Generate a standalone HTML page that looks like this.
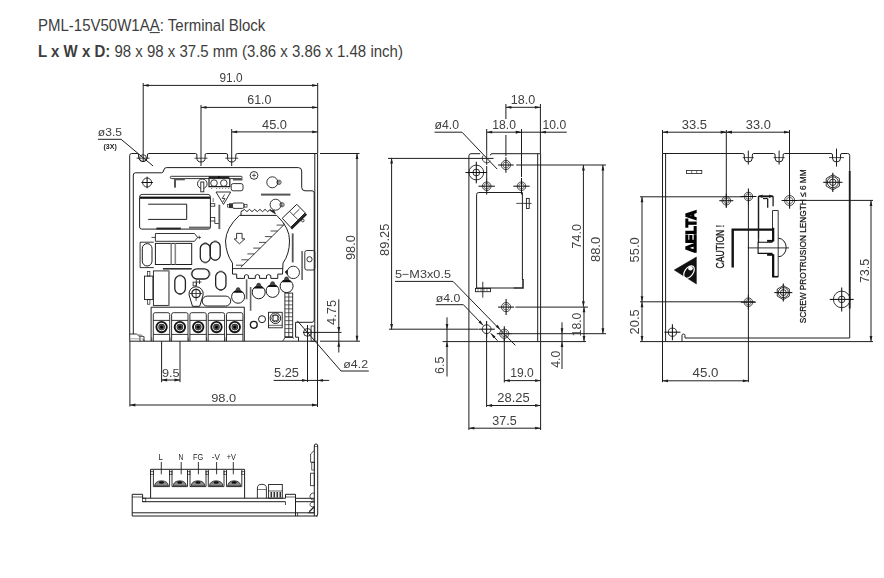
<!DOCTYPE html>
<html><head><meta charset="utf-8"><style>
html,body{margin:0;padding:0;background:#fff;}
body{width:884px;height:578px;position:relative;overflow:hidden;}
.hd{position:absolute;left:38px;font-family:"Liberation Sans",sans-serif;font-size:15px;color:#3d3d3d;white-space:nowrap;line-height:18px;transform:scaleY(1.05);transform-origin:0 14px;}
svg{position:absolute;left:0;top:0;will-change:transform;}
svg text{font-family:"Liberation Sans",sans-serif;}
</style></head><body>
<div class="hd" style="top:16.5px">PML-15V50W1A<u>A</u>: Terminal Block</div>
<div class="hd" style="top:42.6px"><b>L x W x D:</b> 98 x 98 x 37.5 mm (3.86 x 3.86 x 1.48 inch)</div>
<svg width="884" height="578" viewBox="0 0 884 578">
<path d="M129.7,341.2 L129.7,155.5 Q129.7,153.5 131.7,153.5 L137.1,153.5 Q138.6,153.5 138.6,155.0 L138.6,157.1 A4.4,4.4 0 0 0 147.4,157.1 L147.4,155.0 Q147.4,153.5 148.9,153.5 L195.4,153.5 Q196.9,153.5 196.9,155.0 L196.9,157.9 A4.1,4.1 0 0 0 205.1,157.9 L205.1,155.0 Q205.1,153.5 206.6,153.5 L226.1,153.5 Q227.6,153.5 227.6,155.0 L227.6,157.9 A4.1,4.1 0 0 0 235.79999999999998,157.9 L235.79999999999998,155.0 Q235.79999999999998,153.5 237.29999999999998,153.5 L317.6,153.5 L317.6,341.2 Z" fill="none" stroke="#1e1e1e" stroke-width="1"/>
<line x1="314.8" y1="153.5" x2="314.8" y2="341.2" stroke="#1e1e1e" stroke-width="1"/>
<line x1="136.5" y1="158.2" x2="149.5" y2="158.2" stroke="#1e1e1e" stroke-width="0.8"/>
<line x1="194.5" y1="158.2" x2="207.5" y2="158.2" stroke="#1e1e1e" stroke-width="0.8"/>
<line x1="225.2" y1="158.2" x2="238.2" y2="158.2" stroke="#1e1e1e" stroke-width="0.8"/>
<circle cx="143" cy="158.2" r="3.5" fill="none" stroke="#1e1e1e" stroke-width="0.8"/>
<path d="M133.3,334 L133.3,175 Q133.3,172.8 135.5,172.8 L161.5,172.8 Q163.5,172.8 163.8,170 Q164.3,167.6 166.5,167.6 L298.3,167.6 Q301.7,167.6 301.7,171 L301.7,187.4 Q301.7,190.8 305,190.8 L312,190.8 Q314.2,190.8 314.2,193 L314.2,320 Q314.2,322.3 312,322.3 L295.6,322.3 L295.6,337.2 L298.5,337.2 L298.5,341.2" fill="none" stroke="#1e1e1e" stroke-width="1"/>
<line x1="143.2" y1="83" x2="143.2" y2="162" stroke="#1e1e1e" stroke-width="1"/>
<line x1="201" y1="105" x2="201" y2="166" stroke="#1e1e1e" stroke-width="1"/>
<line x1="231.7" y1="129" x2="231.7" y2="166" stroke="#1e1e1e" stroke-width="1"/>
<line x1="317.7" y1="83" x2="317.7" y2="153" stroke="#1e1e1e" stroke-width="1"/>
<line x1="143.2" y1="85.4" x2="317.7" y2="85.4" stroke="#1e1e1e" stroke-width="1"/>
<polygon points="143.2,85.4 148.70,84.00 148.70,86.80" fill="#1e1e1e"/>
<polygon points="317.7,85.4 312.20,86.80 312.20,84.00" fill="#1e1e1e"/>
<line x1="201" y1="107.4" x2="317.7" y2="107.4" stroke="#1e1e1e" stroke-width="1"/>
<polygon points="201,107.4 206.50,106.00 206.50,108.80" fill="#1e1e1e"/>
<polygon points="317.7,107.4 312.20,108.80 312.20,106.00" fill="#1e1e1e"/>
<line x1="231.7" y1="131.9" x2="317.7" y2="131.9" stroke="#1e1e1e" stroke-width="1"/>
<polygon points="231.7,131.9 237.20,130.50 237.20,133.30" fill="#1e1e1e"/>
<polygon points="317.7,131.9 312.20,133.30 312.20,130.50" fill="#1e1e1e"/>
<text x="219.5" y="82.0" font-size="12.15" textLength="23.00" lengthAdjust="spacingAndGlyphs" fill="#404040" font-weight="normal">91.0</text>
<text x="247.3" y="104.2" font-size="12.01" textLength="24.20" lengthAdjust="spacingAndGlyphs" fill="#404040" font-weight="normal">61.0</text>
<text x="262" y="129.3" font-size="12.01" textLength="25.00" lengthAdjust="spacingAndGlyphs" fill="#404040" font-weight="normal">45.0</text>
<text x="97.8" y="136.2" font-size="10.89" textLength="24.20" lengthAdjust="spacingAndGlyphs" fill="#404040" font-weight="normal">ø3.5</text>
<text x="103.5" y="149.2" font-size="7.20" textLength="13.30" lengthAdjust="spacingAndGlyphs" fill="#222" font-weight="bold">(3X)</text>
<line x1="98" y1="139.3" x2="121.1" y2="139.3" stroke="#1e1e1e" stroke-width="1"/>
<line x1="121.1" y1="139.3" x2="153.1" y2="166" stroke="#1e1e1e" stroke-width="1"/>
<line x1="320" y1="153.5" x2="359.5" y2="153.5" stroke="#1e1e1e" stroke-width="1"/>
<line x1="320" y1="341.2" x2="360" y2="341.2" stroke="#1e1e1e" stroke-width="1"/>
<line x1="357" y1="153.5" x2="357" y2="341.2" stroke="#1e1e1e" stroke-width="1"/>
<polygon points="357,153.5 358.40,159.00 355.60,159.00" fill="#1e1e1e"/>
<polygon points="357,341.2 355.60,335.70 358.40,335.70" fill="#1e1e1e"/>
<text transform="translate(354.9,260.1) rotate(-90)" x="0" y="0" font-size="12.99" textLength="24.90" lengthAdjust="spacingAndGlyphs" fill="#404040" font-weight="normal">98.0</text>
<line x1="303" y1="332.4" x2="341.5" y2="332.4" stroke="#1e1e1e" stroke-width="1"/>
<line x1="338.8" y1="299.4" x2="338.8" y2="352.5" stroke="#1e1e1e" stroke-width="1"/>
<polygon points="338.8,332.4 337.40,326.90 340.20,326.90" fill="#1e1e1e"/>
<polygon points="338.8,341.2 340.20,346.70 337.40,346.70" fill="#1e1e1e"/>
<text transform="translate(335.8,324.9) rotate(-90)" x="0" y="0" font-size="12.57" textLength="24.90" lengthAdjust="spacingAndGlyphs" fill="#404040" font-weight="normal">4.75</text>
<circle cx="307.5" cy="332.4" r="3.9" fill="none" stroke="#1e1e1e" stroke-width="0.9"/>
<line x1="307.5" y1="325" x2="307.5" y2="382" stroke="#1e1e1e" stroke-width="1"/>
<line x1="297.3" y1="320.8" x2="341" y2="371" stroke="#1e1e1e" stroke-width="1"/>
<line x1="341" y1="371" x2="368.8" y2="371" stroke="#1e1e1e" stroke-width="1"/>
<text x="343.3" y="367.6" font-size="10.06" textLength="24.70" lengthAdjust="spacingAndGlyphs" fill="#404040" font-weight="normal">ø4.2</text>
<line x1="317.5" y1="341.2" x2="317.5" y2="407" stroke="#1e1e1e" stroke-width="1"/>
<line x1="273.6" y1="380.4" x2="329.2" y2="380.4" stroke="#1e1e1e" stroke-width="1"/>
<polygon points="307.5,380.4 302.00,381.80 302.00,379.00" fill="#1e1e1e"/>
<polygon points="317.5,380.4 323.00,379.00 323.00,381.80" fill="#1e1e1e"/>
<text x="274" y="376.8" font-size="11.87" textLength="25.00" lengthAdjust="spacingAndGlyphs" fill="#404040" font-weight="normal">5.25</text>
<line x1="161.6" y1="341.2" x2="161.6" y2="382.2" stroke="#1e1e1e" stroke-width="1"/>
<line x1="180" y1="341.2" x2="180" y2="382.2" stroke="#1e1e1e" stroke-width="1"/>
<line x1="161.6" y1="380" x2="180" y2="380" stroke="#1e1e1e" stroke-width="1"/>
<polygon points="161.6,380 167.10,378.60 167.10,381.40" fill="#1e1e1e"/>
<polygon points="180,380 174.50,381.40 174.50,378.60" fill="#1e1e1e"/>
<text x="161.9" y="376.8" font-size="11.73" textLength="17.70" lengthAdjust="spacingAndGlyphs" fill="#404040" font-weight="normal">9.5</text>
<line x1="129.9" y1="341.2" x2="129.9" y2="406.5" stroke="#1e1e1e" stroke-width="1"/>
<line x1="129.9" y1="405" x2="317.5" y2="405" stroke="#1e1e1e" stroke-width="1"/>
<polygon points="129.9,405 135.40,403.60 135.40,406.40" fill="#1e1e1e"/>
<polygon points="317.5,405 312.00,406.40 312.00,403.60" fill="#1e1e1e"/>
<text x="211.2" y="401.5" font-size="11.59" textLength="25.00" lengthAdjust="spacingAndGlyphs" fill="#404040" font-weight="normal">98.0</text>
<path d="M480.2,153.7 L471,153.7 Q468.9,153.7 468.9,155.8 L468.9,341.6 L540.6,341.6 L540.6,153.7 L492,153.7 Q490.4,153.7 490.4,155.3" fill="none" stroke="#1e1e1e" stroke-width="1"/>
<line x1="537.7" y1="153.7" x2="537.7" y2="341.6" stroke="#1e1e1e" stroke-width="1"/>
<path d="M483.2,155.5 A4.5,4.5 0 0 0 490.5,161" fill="none" stroke="#1e1e1e" stroke-width="0.8"/>
<line x1="486.7" y1="150" x2="486.7" y2="165" stroke="#1e1e1e" stroke-width="0.9"/>
<circle cx="505.9" cy="165" r="4.6" fill="none" stroke="#333" stroke-width="0.9"/>
<circle cx="505.9" cy="165" r="2.944" fill="none" stroke="#444" stroke-width="0.7"/>
<line x1="498.09999999999997" y1="165" x2="513.6999999999999" y2="165" stroke="#111" stroke-width="1.05"/>
<line x1="505.9" y1="157.2" x2="505.9" y2="172.8" stroke="#111" stroke-width="1.05"/>
<circle cx="476.3" cy="172.5" r="7.4" fill="none" stroke="#1e1e1e" stroke-width="0.9"/>
<circle cx="476.3" cy="172.5" r="3.4" fill="none" stroke="#1e1e1e" stroke-width="0.9"/>
<line x1="465.5" y1="172.5" x2="487.1" y2="172.5" stroke="#111" stroke-width="1.05"/>
<line x1="476.3" y1="161.7" x2="476.3" y2="183.3" stroke="#111" stroke-width="1.05"/>
<circle cx="486.7" cy="186.2" r="4.3" fill="none" stroke="#333" stroke-width="0.9"/>
<circle cx="486.7" cy="186.2" r="2.752" fill="none" stroke="#444" stroke-width="0.7"/>
<line x1="478.5" y1="186.2" x2="494.9" y2="186.2" stroke="#111" stroke-width="1.05"/>
<line x1="486.7" y1="178.0" x2="486.7" y2="194.39999999999998" stroke="#111" stroke-width="1.05"/>
<circle cx="521.5" cy="186.2" r="4.3" fill="none" stroke="#333" stroke-width="0.9"/>
<circle cx="521.5" cy="186.2" r="2.752" fill="none" stroke="#444" stroke-width="0.7"/>
<line x1="513.3" y1="186.2" x2="529.7" y2="186.2" stroke="#111" stroke-width="1.05"/>
<line x1="521.5" y1="178.0" x2="521.5" y2="194.39999999999998" stroke="#111" stroke-width="1.05"/>
<path d="M513.3,288 L476.6,288 L476.6,194.5 Q476.6,192.5 478.6,192.5 L522.4,192.5 L522.4,280" fill="none" stroke="#1e1e1e" stroke-width="1"/>
<path d="M513.3,288 L523,288 L523,279" fill="none" stroke="#1e1e1e" stroke-width="1.5"/>
<rect x="526.4" y="198.4" width="2.8" height="10.1" rx="0" fill="none" stroke="#1e1e1e" stroke-width="0.9"/>
<line x1="516.3" y1="203.4" x2="531.5" y2="203.4" stroke="#1e1e1e" stroke-width="0.8"/>
<rect x="475.5" y="288.4" width="15" height="3.3" rx="0" fill="none" stroke="#1e1e1e" stroke-width="0.9"/>
<line x1="478" y1="288.4" x2="478" y2="291.7" stroke="#1e1e1e" stroke-width="0.5"/>
<line x1="481" y1="288.4" x2="481" y2="291.7" stroke="#1e1e1e" stroke-width="0.5"/>
<line x1="484" y1="288.4" x2="484" y2="291.7" stroke="#1e1e1e" stroke-width="0.5"/>
<line x1="487" y1="288.4" x2="487" y2="291.7" stroke="#1e1e1e" stroke-width="0.5"/>
<line x1="482.8" y1="281.8" x2="482.8" y2="297.7" stroke="#1e1e1e" stroke-width="0.9"/>
<circle cx="506.1" cy="307.1" r="4.6" fill="none" stroke="#333" stroke-width="0.9"/>
<circle cx="506.1" cy="307.1" r="2.944" fill="none" stroke="#444" stroke-width="0.7"/>
<line x1="498.1" y1="307.1" x2="514.1" y2="307.1" stroke="#111" stroke-width="1.05"/>
<line x1="506.1" y1="299.1" x2="506.1" y2="315.1" stroke="#111" stroke-width="1.05"/>
<circle cx="486.6" cy="329.2" r="4.4" fill="none" stroke="#1e1e1e" stroke-width="0.9"/>
<line x1="478.40000000000003" y1="329.2" x2="494.8" y2="329.2" stroke="#111" stroke-width="1.05"/>
<line x1="486.6" y1="321.0" x2="486.6" y2="337.4" stroke="#111" stroke-width="1.05"/>
<circle cx="504.3" cy="333.7" r="4.6" fill="none" stroke="#333" stroke-width="0.9"/>
<circle cx="504.3" cy="333.7" r="2.944" fill="none" stroke="#444" stroke-width="0.7"/>
<line x1="496.8" y1="333.7" x2="511.8" y2="333.7" stroke="#111" stroke-width="1.05"/>
<line x1="504.3" y1="326.2" x2="504.3" y2="341.2" stroke="#111" stroke-width="1.05"/>
<line x1="388" y1="158.4" x2="493.5" y2="158.4" stroke="#1e1e1e" stroke-width="1"/>
<line x1="516.2" y1="165" x2="606" y2="165" stroke="#1e1e1e" stroke-width="1"/>
<line x1="389" y1="329.2" x2="478" y2="329.2" stroke="#1e1e1e" stroke-width="1"/>
<line x1="442.6" y1="341.6" x2="468.9" y2="341.6" stroke="#1e1e1e" stroke-width="1"/>
<line x1="515.4" y1="307.1" x2="588" y2="307.1" stroke="#1e1e1e" stroke-width="1"/>
<line x1="511.2" y1="333.7" x2="606" y2="333.7" stroke="#1e1e1e" stroke-width="1"/>
<line x1="540.4" y1="341.6" x2="586" y2="341.6" stroke="#1e1e1e" stroke-width="1"/>
<line x1="391.6" y1="157.9" x2="391.6" y2="329.4" stroke="#1e1e1e" stroke-width="1"/>
<polygon points="391.6,157.9 393.00,163.40 390.20,163.40" fill="#1e1e1e"/>
<polygon points="391.6,329.4 390.20,323.90 393.00,323.90" fill="#1e1e1e"/>
<text transform="translate(389.2,255.9) rotate(-90)" x="0" y="0" font-size="12.99" textLength="32.20" lengthAdjust="spacingAndGlyphs" fill="#404040" font-weight="normal">89.25</text>
<line x1="583.4" y1="164.9" x2="583.4" y2="306.7" stroke="#1e1e1e" stroke-width="1"/>
<polygon points="583.4,164.9 584.80,170.40 582.00,170.40" fill="#1e1e1e"/>
<polygon points="583.4,306.7 582.00,301.20 584.80,301.20" fill="#1e1e1e"/>
<text transform="translate(580.5,248.7) rotate(-90)" x="0" y="0" font-size="12.99" textLength="24.70" lengthAdjust="spacingAndGlyphs" fill="#404040" font-weight="normal">74.0</text>
<line x1="602.9" y1="164.9" x2="602.9" y2="333.8" stroke="#1e1e1e" stroke-width="1"/>
<polygon points="602.9,164.9 604.30,170.40 601.50,170.40" fill="#1e1e1e"/>
<polygon points="602.9,333.8 601.50,328.30 604.30,328.30" fill="#1e1e1e"/>
<text transform="translate(599.7,262) rotate(-90)" x="0" y="0" font-size="12.71" textLength="25.10" lengthAdjust="spacingAndGlyphs" fill="#404040" font-weight="normal">88.0</text>
<line x1="584" y1="306.7" x2="584" y2="341.6" stroke="#1e1e1e" stroke-width="1"/>
<polygon points="584,306.7 585.40,312.20 582.60,312.20" fill="#1e1e1e"/>
<polygon points="584,341.6 582.60,336.10 585.40,336.10" fill="#1e1e1e"/>
<text transform="translate(580.8,336.4) rotate(-90)" x="0" y="0" font-size="12.43" textLength="23.80" lengthAdjust="spacingAndGlyphs" fill="#404040" font-weight="normal">18.0</text>
<line x1="562" y1="322.3" x2="562" y2="369" stroke="#1e1e1e" stroke-width="1"/>
<polygon points="562,333.8 560.60,328.30 563.40,328.30" fill="#1e1e1e"/>
<polygon points="562,341.6 563.40,347.10 560.60,347.10" fill="#1e1e1e"/>
<text transform="translate(559.5,367.8) rotate(-90)" x="0" y="0" font-size="13.13" textLength="17.10" lengthAdjust="spacingAndGlyphs" fill="#404040" font-weight="normal">4.0</text>
<line x1="447" y1="317.3" x2="447" y2="376.5" stroke="#1e1e1e" stroke-width="1"/>
<polygon points="447,329.4 445.60,323.90 448.40,323.90" fill="#1e1e1e"/>
<polygon points="447,341.6 448.40,347.10 445.60,347.10" fill="#1e1e1e"/>
<text transform="translate(444.4,373.9) rotate(-90)" x="0" y="0" font-size="12.57" textLength="17.30" lengthAdjust="spacingAndGlyphs" fill="#404040" font-weight="normal">6.5</text>
<line x1="505.9" y1="104" x2="505.9" y2="119" stroke="#1e1e1e" stroke-width="1"/>
<line x1="505.9" y1="135" x2="505.9" y2="156" stroke="#1e1e1e" stroke-width="1"/>
<line x1="540.4" y1="104" x2="540.4" y2="153.7" stroke="#1e1e1e" stroke-width="1"/>
<line x1="505.9" y1="107.3" x2="540.4" y2="107.3" stroke="#1e1e1e" stroke-width="1"/>
<polygon points="505.9,107.3 511.40,105.90 511.40,108.70" fill="#1e1e1e"/>
<polygon points="540.4,107.3 534.90,108.70 534.90,105.90" fill="#1e1e1e"/>
<text x="510.8" y="104" font-size="11.87" textLength="24.50" lengthAdjust="spacingAndGlyphs" fill="#404040" font-weight="normal">18.0</text>
<line x1="486.7" y1="129" x2="486.7" y2="150" stroke="#1e1e1e" stroke-width="1"/>
<line x1="486.7" y1="166" x2="486.7" y2="178" stroke="#1e1e1e" stroke-width="1"/>
<line x1="521.5" y1="129" x2="521.5" y2="177" stroke="#1e1e1e" stroke-width="1"/>
<line x1="486.7" y1="132.2" x2="521.3" y2="132.2" stroke="#1e1e1e" stroke-width="1"/>
<polygon points="486.7,132.2 492.20,130.80 492.20,133.60" fill="#1e1e1e"/>
<polygon points="521.3,132.2 515.80,133.60 515.80,130.80" fill="#1e1e1e"/>
<line x1="521.3" y1="132.2" x2="566.8" y2="132.2" stroke="#1e1e1e" stroke-width="1"/>
<polygon points="540.4,132.2 545.90,130.80 545.90,133.60" fill="#1e1e1e"/>
<polygon points="521.3,132.2 515.80,133.60 515.80,130.80" fill="#1e1e1e"/>
<text x="492.3" y="129" font-size="12.01" textLength="23.60" lengthAdjust="spacingAndGlyphs" fill="#404040" font-weight="normal">18.0</text>
<text x="542.6" y="129" font-size="12.01" textLength="23.60" lengthAdjust="spacingAndGlyphs" fill="#404040" font-weight="normal">10.0</text>
<text x="434.5" y="129" font-size="12.01" textLength="24.50" lengthAdjust="spacingAndGlyphs" fill="#404040" font-weight="normal">ø4.0</text>
<line x1="434.5" y1="132.2" x2="462" y2="132.2" stroke="#1e1e1e" stroke-width="1"/>
<line x1="462" y1="132.2" x2="497.2" y2="169.1" stroke="#1e1e1e" stroke-width="1"/>
<line x1="504.3" y1="338" x2="504.3" y2="382.5" stroke="#1e1e1e" stroke-width="1"/>
<line x1="540.6" y1="341.6" x2="540.6" y2="430" stroke="#1e1e1e" stroke-width="1"/>
<line x1="504.3" y1="380.6" x2="540.6" y2="380.6" stroke="#1e1e1e" stroke-width="1"/>
<polygon points="504.3,380.6 509.80,379.20 509.80,382.00" fill="#1e1e1e"/>
<polygon points="540.6,380.6 535.10,382.00 535.10,379.20" fill="#1e1e1e"/>
<text x="510.3" y="377" font-size="12.01" textLength="23.40" lengthAdjust="spacingAndGlyphs" fill="#404040" font-weight="normal">19.0</text>
<line x1="486.6" y1="333" x2="486.6" y2="407" stroke="#1e1e1e" stroke-width="1"/>
<line x1="486.6" y1="405.5" x2="540.6" y2="405.5" stroke="#1e1e1e" stroke-width="1"/>
<polygon points="486.6,405.5 492.10,404.10 492.10,406.90" fill="#1e1e1e"/>
<polygon points="540.6,405.5 535.10,406.90 535.10,404.10" fill="#1e1e1e"/>
<text x="497.3" y="401.9" font-size="12.01" textLength="32.40" lengthAdjust="spacingAndGlyphs" fill="#404040" font-weight="normal">28.25</text>
<line x1="468.9" y1="341.6" x2="468.9" y2="430" stroke="#1e1e1e" stroke-width="1"/>
<line x1="468.9" y1="428.2" x2="540.6" y2="428.2" stroke="#1e1e1e" stroke-width="1"/>
<polygon points="468.9,428.2 474.40,426.80 474.40,429.60" fill="#1e1e1e"/>
<polygon points="540.6,428.2 535.10,429.60 535.10,426.80" fill="#1e1e1e"/>
<text x="492.3" y="424.5" font-size="12.15" textLength="24.30" lengthAdjust="spacingAndGlyphs" fill="#404040" font-weight="normal">37.5</text>
<text x="394.9" y="278.3" font-size="11.73" textLength="56.10" lengthAdjust="spacingAndGlyphs" fill="#404040" font-weight="normal">5−M3x0.5</text>
<line x1="395" y1="281.4" x2="453" y2="281.4" stroke="#1e1e1e" stroke-width="1"/>
<line x1="453" y1="281.4" x2="515.4" y2="345.4" stroke="#1e1e1e" stroke-width="1"/>
<polygon points="500.5,329.7 495.69,326.69 497.71,324.76" fill="#1e1e1e"/>
<text x="435.7" y="301.8" font-size="11.17" textLength="24.60" lengthAdjust="spacingAndGlyphs" fill="#404040" font-weight="normal">ø4.0</text>
<line x1="435.7" y1="304.7" x2="463.4" y2="304.7" stroke="#1e1e1e" stroke-width="1"/>
<line x1="463.4" y1="304.7" x2="483.3" y2="325.4" stroke="#1e1e1e" stroke-width="1"/>
<polygon points="483.3,325.4 478.48,322.40 480.50,320.46" fill="#1e1e1e"/>
<path d="M662.5,341.6 L662.5,153.5 L742.8,153.5 Q744.3,153.5 744.3,155.0 L744.3,158 A4,4 0 0 0 752.3,158 L752.3,155.0 Q752.3,153.5 753.8,153.5 L773.6,153.5 Q775.1,153.5 775.1,155.0 L775.1,158 A4,4 0 0 0 783.1,158 L783.1,155.0 Q783.1,153.5 784.6,153.5 L831.0,153.5 Q832.5,153.5 832.5,155.0 L832.5,158 A4,4 0 0 0 840.5,158 L840.5,155.0 Q840.5,153.5 842.0,153.5 L847.7,153.5 Q849.7,153.5 849.7,155.5 L849.7,338 L685,338 L685,335.5 Q685,334 683.5,334 Q682,334 682,335.5 L682,341.6" fill="none" stroke="#1e1e1e" stroke-width="1"/>
<line x1="665.6" y1="153.5" x2="665.6" y2="341.1" stroke="#1e1e1e" stroke-width="1"/>
<line x1="849.7" y1="171" x2="849.7" y2="308.5" stroke="#1e1e1e" stroke-width="1.8"/>
<line x1="742.8" y1="157.6" x2="753.8" y2="157.6" stroke="#1e1e1e" stroke-width="0.8"/>
<line x1="748.3" y1="150.6" x2="748.3" y2="164.6" stroke="#1e1e1e" stroke-width="1"/>
<line x1="773.6" y1="157.6" x2="784.6" y2="157.6" stroke="#1e1e1e" stroke-width="0.8"/>
<line x1="779.1" y1="150.6" x2="779.1" y2="164.6" stroke="#1e1e1e" stroke-width="1"/>
<line x1="829.0" y1="157.6" x2="844.0" y2="157.6" stroke="#1e1e1e" stroke-width="0.8"/>
<line x1="836.5" y1="148.6" x2="836.5" y2="166.6" stroke="#1e1e1e" stroke-width="1"/>
<rect x="686.6" y="170.5" width="15.2" height="3" rx="0" fill="none" stroke="#1e1e1e" stroke-width="0.8"/>
<line x1="691.7" y1="170.5" x2="691.7" y2="173.5" stroke="#1e1e1e" stroke-width="0.6"/>
<line x1="696.7" y1="170.5" x2="696.7" y2="173.5" stroke="#1e1e1e" stroke-width="0.6"/>
<circle cx="726.3" cy="200.7" r="4.3" fill="none" stroke="#333" stroke-width="0.9"/>
<circle cx="726.3" cy="200.7" r="2.752" fill="none" stroke="#444" stroke-width="0.7"/>
<line x1="719.3" y1="200.7" x2="733.3" y2="200.7" stroke="#111" stroke-width="1.05"/>
<line x1="726.3" y1="193.7" x2="726.3" y2="207.7" stroke="#111" stroke-width="1.05"/>
<circle cx="748.4" cy="196.5" r="4.3" fill="none" stroke="#333" stroke-width="0.9"/>
<circle cx="748.4" cy="196.5" r="2.752" fill="none" stroke="#444" stroke-width="0.7"/>
<line x1="740.4" y1="196.5" x2="756.4" y2="196.5" stroke="#111" stroke-width="1.05"/>
<line x1="748.4" y1="188.5" x2="748.4" y2="204.5" stroke="#111" stroke-width="1.05"/>
<circle cx="789.6" cy="200.5" r="5" fill="none" stroke="#333" stroke-width="0.9"/>
<circle cx="789.6" cy="200.5" r="3.2" fill="none" stroke="#444" stroke-width="0.7"/>
<line x1="781.6" y1="200.5" x2="797.6" y2="200.5" stroke="#111" stroke-width="1.05"/>
<line x1="789.6" y1="192.5" x2="789.6" y2="208.5" stroke="#111" stroke-width="1.05"/>
<polygon points="839.38,186.1 832.8,189.9 826.22,186.1 826.22,178.5 832.8,174.7 839.38,178.5" fill="none" stroke="#1e1e1e" stroke-width="0.9"/>
<circle cx="832.8" cy="182.3" r="5.4719999999999995" fill="none" stroke="#1e1e1e" stroke-width="0.9"/>
<circle cx="832.8" cy="182.3" r="3.1919999999999997" fill="none" stroke="#1e1e1e" stroke-width="0.9"/>
<line x1="823.1999999999999" y1="182.3" x2="842.4" y2="182.3" stroke="#111" stroke-width="1.05"/>
<line x1="832.8" y1="172.70000000000002" x2="832.8" y2="191.9" stroke="#111" stroke-width="1.05"/>
<polygon points="789.36,296.1 783.3,299.6 777.24,296.1 777.24,289.1 783.3,285.6 789.36,289.1" fill="none" stroke="#1e1e1e" stroke-width="0.9"/>
<circle cx="783.3" cy="292.6" r="5.04" fill="none" stroke="#1e1e1e" stroke-width="0.9"/>
<circle cx="783.3" cy="292.6" r="2.94" fill="none" stroke="#1e1e1e" stroke-width="0.9"/>
<line x1="774.3" y1="292.6" x2="792.3" y2="292.6" stroke="#111" stroke-width="1.05"/>
<line x1="783.3" y1="283.6" x2="783.3" y2="301.6" stroke="#111" stroke-width="1.05"/>
<circle cx="748.4" cy="302.2" r="4.3" fill="none" stroke="#333" stroke-width="0.9"/>
<circle cx="748.4" cy="302.2" r="2.752" fill="none" stroke="#444" stroke-width="0.7"/>
<line x1="740.9" y1="302.2" x2="755.9" y2="302.2" stroke="#111" stroke-width="1.05"/>
<line x1="748.4" y1="294.7" x2="748.4" y2="309.7" stroke="#111" stroke-width="1.05"/>
<circle cx="841.7" cy="299.4" r="8.3" fill="none" stroke="#1e1e1e" stroke-width="0.9"/>
<circle cx="841.7" cy="299.4" r="3.3" fill="none" stroke="#1e1e1e" stroke-width="0.9"/>
<line x1="829.7" y1="299.4" x2="853.7" y2="299.4" stroke="#111" stroke-width="1.05"/>
<line x1="841.7" y1="287.4" x2="841.7" y2="311.4" stroke="#111" stroke-width="1.05"/>
<circle cx="672.4" cy="332.2" r="4.1" fill="none" stroke="#1e1e1e" stroke-width="0.9"/>
<line x1="664.4" y1="332.2" x2="680.4" y2="332.2" stroke="#111" stroke-width="1.05"/>
<line x1="672.4" y1="324.2" x2="672.4" y2="340.2" stroke="#111" stroke-width="1.05"/>
<line x1="758.5" y1="196.3" x2="773.1" y2="196.3" stroke="#111" stroke-width="1.8"/>
<polygon points="758.5,196.3 762.50,194.50 762.50,198.10" fill="#1e1e1e"/>
<polygon points="773.1,196.3 769.10,198.10 769.10,194.50" fill="#1e1e1e"/>
<line x1="758.5" y1="196.3" x2="758.5" y2="242.4" stroke="#1e1e1e" stroke-width="1.3"/>
<line x1="773.1" y1="196.3" x2="773.1" y2="206.3" stroke="#1e1e1e" stroke-width="1.3"/>
<line x1="763" y1="198.5" x2="767.7" y2="198.5" stroke="#1e1e1e" stroke-width="1.3"/>
<line x1="767.7" y1="198.5" x2="767.7" y2="207.7" stroke="#1e1e1e" stroke-width="1.3"/>
<path d="M772.5,241.5 L772.5,210.5 L778.2,210.5 L778.2,276.9 L772.5,276.9 L772.5,254" fill="none" stroke="#1e1e1e" stroke-width="0.9"/>
<line x1="773.2" y1="227.8" x2="773.2" y2="241.5" stroke="#111" stroke-width="2.2"/>
<line x1="773.2" y1="254.2" x2="773.2" y2="277" stroke="#111" stroke-width="2.2"/>
<line x1="772" y1="276.6" x2="778.2" y2="276.6" stroke="#111" stroke-width="1.4"/>
<path d="M732.7,267.5 L732.7,229.6 L772.5,229.6" fill="none" stroke="#111" stroke-width="2.4"/>
<line x1="758.5" y1="196.3" x2="758.5" y2="238.2" stroke="#1e1e1e" stroke-width="1.2"/>
<path d="M772.5,242.3 L758.1,242.3 L758.1,253.4 L772.5,253.4" fill="none" stroke="#111" stroke-width="1.1"/>
<line x1="767.1" y1="240.9" x2="773" y2="240.9" stroke="#111" stroke-width="2"/>
<line x1="767.1" y1="254.8" x2="773" y2="254.8" stroke="#111" stroke-width="2"/>
<path d="M778.2,238.2 A8,9.3 0 0 1 778.2,256.8" fill="none" stroke="#1e1e1e" stroke-width="1"/>
<line x1="747.8" y1="247.9" x2="789" y2="247.9" stroke="#1e1e1e" stroke-width="0.9"/>
<text transform="translate(696.2,252.8) rotate(-90)" font-size="14.5" textLength="42.4" lengthAdjust="spacingAndGlyphs" fill="#000" stroke="#000" stroke-width="1.4" font-weight="bold">ΔELTA</text>
<polygon points="674.2,270 696.4,257 696.4,284" fill="#111" stroke="#111" stroke-width="0.5"/>
<ellipse cx="689" cy="272" rx="4.2" ry="7" transform="rotate(35 689 272)" fill="none" stroke="#fff" stroke-width="1.2"/>
<circle cx="690.5" cy="268.3" r="2.3" fill="#fff" stroke="#1e1e1e" stroke-width="0"/>
<text transform="translate(723.8,268.4) rotate(-90)" font-size="11" textLength="43.5" lengthAdjust="spacingAndGlyphs" fill="#111" stroke="#111" stroke-width="0.3">CAUTION !</text>
<text transform="translate(806,323.3) rotate(-90)" font-size="9.4" textLength="153.9" lengthAdjust="spacingAndGlyphs" fill="#111" stroke="#111" stroke-width="0.25">SCREW PROTRUSION LENGTH ≤ 6 MM</text>
<line x1="662.5" y1="130" x2="662.5" y2="153.5" stroke="#1e1e1e" stroke-width="1"/>
<line x1="726.3" y1="130" x2="726.3" y2="207.5" stroke="#1e1e1e" stroke-width="1"/>
<line x1="789.5" y1="130" x2="789.5" y2="208.5" stroke="#1e1e1e" stroke-width="1"/>
<line x1="662.5" y1="132.2" x2="726.3" y2="132.2" stroke="#1e1e1e" stroke-width="1"/>
<polygon points="662.5,132.2 668.00,130.80 668.00,133.60" fill="#1e1e1e"/>
<polygon points="726.3,132.2 720.80,133.60 720.80,130.80" fill="#1e1e1e"/>
<line x1="726.3" y1="132.2" x2="789.5" y2="132.2" stroke="#1e1e1e" stroke-width="1"/>
<polygon points="726.3,132.2 731.80,130.80 731.80,133.60" fill="#1e1e1e"/>
<polygon points="789.5,132.2 784.00,133.60 784.00,130.80" fill="#1e1e1e"/>
<polygon points="726.3,132.2 720.80,133.60 720.80,130.80" fill="#1e1e1e"/>
<polygon points="726.3,132.2 731.80,130.80 731.80,133.60" fill="#1e1e1e"/>
<text x="681.7" y="128.7" font-size="12.85" textLength="25.30" lengthAdjust="spacingAndGlyphs" fill="#404040" font-weight="normal">33.5</text>
<text x="745.8" y="128.7" font-size="12.85" textLength="25.00" lengthAdjust="spacingAndGlyphs" fill="#404040" font-weight="normal">33.0</text>
<line x1="640" y1="196.8" x2="743" y2="196.8" stroke="#1e1e1e" stroke-width="1"/>
<line x1="797" y1="200.4" x2="873" y2="200.4" stroke="#1e1e1e" stroke-width="1"/>
<line x1="640" y1="301.8" x2="755" y2="301.8" stroke="#1e1e1e" stroke-width="1"/>
<line x1="640" y1="341.6" x2="873" y2="341.6" stroke="#1e1e1e" stroke-width="1"/>
<line x1="642" y1="196.8" x2="642" y2="301.8" stroke="#1e1e1e" stroke-width="1"/>
<polygon points="642,196.8 643.40,202.30 640.60,202.30" fill="#1e1e1e"/>
<polygon points="642,301.8 640.60,296.30 643.40,296.30" fill="#1e1e1e"/>
<line x1="642" y1="301.8" x2="642" y2="341.6" stroke="#1e1e1e" stroke-width="1"/>
<polygon points="642,301.8 643.40,307.30 640.60,307.30" fill="#1e1e1e"/>
<polygon points="642,341.6 640.60,336.10 643.40,336.10" fill="#1e1e1e"/>
<text transform="translate(639.1,262.4) rotate(-90)" x="0" y="0" font-size="12.29" textLength="25.00" lengthAdjust="spacingAndGlyphs" fill="#404040" font-weight="normal">55.0</text>
<text transform="translate(639.1,334.4) rotate(-90)" x="0" y="0" font-size="12.29" textLength="25.00" lengthAdjust="spacingAndGlyphs" fill="#404040" font-weight="normal">20.5</text>
<line x1="871" y1="200.4" x2="871" y2="341.6" stroke="#1e1e1e" stroke-width="1"/>
<polygon points="871,200.4 872.40,205.90 869.60,205.90" fill="#1e1e1e"/>
<polygon points="871,341.6 869.60,336.10 872.40,336.10" fill="#1e1e1e"/>
<text transform="translate(868.6,283.1) rotate(-90)" x="0" y="0" font-size="12.57" textLength="24.40" lengthAdjust="spacingAndGlyphs" fill="#404040" font-weight="normal">73.5</text>
<line x1="662.5" y1="341.1" x2="662.5" y2="382.2" stroke="#1e1e1e" stroke-width="1"/>
<line x1="748.4" y1="204" x2="748.4" y2="382.2" stroke="#1e1e1e" stroke-width="1"/>
<line x1="662.5" y1="380.8" x2="748.4" y2="380.8" stroke="#1e1e1e" stroke-width="1"/>
<polygon points="662.5,380.8 668.00,379.40 668.00,382.20" fill="#1e1e1e"/>
<polygon points="748.4,380.8 742.90,382.20 742.90,379.40" fill="#1e1e1e"/>
<text x="692.6" y="377.4" font-size="12.15" textLength="25.90" lengthAdjust="spacingAndGlyphs" fill="#404040" font-weight="normal">45.0</text>
<path d="M132.2,516 L132.2,494.3 L142.6,494.3 L142.6,498.2" fill="none" stroke="#1e1e1e" stroke-width="1"/>
<line x1="132.2" y1="497" x2="142.6" y2="497" stroke="#1e1e1e" stroke-width="0.7"/>
<line x1="132.2" y1="516" x2="317.7" y2="516" stroke="#1e1e1e" stroke-width="1"/>
<line x1="132.2" y1="512.8" x2="314.3" y2="512.8" stroke="#1e1e1e" stroke-width="1"/>
<line x1="142.6" y1="498.2" x2="285.5" y2="498.2" stroke="#1e1e1e" stroke-width="1"/>
<line x1="142.6" y1="501.7" x2="285.5" y2="501.7" stroke="#1e1e1e" stroke-width="1"/>
<rect x="142.6" y="498.2" width="3.2" height="3.5" rx="0" fill="none" stroke="#1e1e1e" stroke-width="0.7"/>
<path d="M285.5,498.2 L285.5,494.3 L295.5,494.3 L295.5,516" fill="none" stroke="#1e1e1e" stroke-width="1"/>
<line x1="285.5" y1="497" x2="295.5" y2="497" stroke="#1e1e1e" stroke-width="0.7"/>
<line x1="285.5" y1="501.7" x2="285.5" y2="505" stroke="#1e1e1e" stroke-width="0.8"/>
<line x1="295.5" y1="498.3" x2="314.3" y2="498.3" stroke="#1e1e1e" stroke-width="1"/>
<line x1="295.5" y1="501.7" x2="314.3" y2="501.7" stroke="#1e1e1e" stroke-width="1"/>
<line x1="297.6" y1="512.8" x2="297.6" y2="516" stroke="#1e1e1e" stroke-width="0.8"/>
<path d="M314.3,516 L314.3,446 Q314.3,443.9 316,443.9 Q317.7,443.9 317.7,446 L317.7,514 Q317.7,516 316,516" fill="none" stroke="#1e1e1e" stroke-width="1"/>
<line x1="314.3" y1="446.5" x2="317.7" y2="446.5" stroke="#1e1e1e" stroke-width="0.6"/>
<path d="M314.3,450.4 L310.6,454 L310.6,462.2 L314.3,462.2" fill="none" stroke="#1e1e1e" stroke-width="0.8"/>
<rect x="311.8" y="462.5" width="2.5" height="7.5" rx="0" fill="none" stroke="#1e1e1e" stroke-width="0.7"/>
<rect x="310.6" y="473.2" width="3.7" height="12.5" rx="0" fill="none" stroke="#1e1e1e" stroke-width="0.8"/>
<path d="M314.3,493 Q310,493 310,496.5 Q310,500 314.3,500 M314.3,502 Q310,502 310,504.5 Q310,507 314.3,507" fill="none" stroke="#1e1e1e" stroke-width="0.8"/>
<path d="M308.4,512.8 L314.3,506.5 L314.3,512.8 Z" fill="none" stroke="#1e1e1e" stroke-width="0.8"/>
<line x1="309.5" y1="511.5" x2="314" y2="507" stroke="#1e1e1e" stroke-width="1.2"/>
<path d="M150.6,498.2 L150.6,469.3 L244.6,469.3 L244.6,498.2" fill="none" stroke="#1e1e1e" stroke-width="1"/>
<path d="M153.4,470 L153.4,486.6 L169.6,486.6 L169.6,470" fill="none" stroke="#1e1e1e" stroke-width="0.9"/>
<path d="M154.6,486 Q154.9,481 161.5,480.8 Q168.1,481 168.4,486 Z" fill="#8a8a8a" stroke="#222" stroke-width="0.8"/>
<ellipse cx="161.5" cy="482.5" rx="2.6" ry="1.2" fill="#111"/>
<path d="M172,470 L172,486.6 L187.5,486.6 L187.5,470" fill="none" stroke="#1e1e1e" stroke-width="0.9"/>
<path d="M173.2,486 Q173.5,481 179.75,480.8 Q186.0,481 186.3,486 Z" fill="#8a8a8a" stroke="#222" stroke-width="0.8"/>
<ellipse cx="179.75" cy="482.5" rx="2.6" ry="1.2" fill="#111"/>
<path d="M190,470 L190,486.6 L206,486.6 L206,470" fill="none" stroke="#1e1e1e" stroke-width="0.9"/>
<path d="M191.2,486 Q191.5,481 198.0,480.8 Q204.5,481 204.8,486 Z" fill="#8a8a8a" stroke="#222" stroke-width="0.8"/>
<ellipse cx="198.0" cy="482.5" rx="2.6" ry="1.2" fill="#111"/>
<path d="M208.3,470 L208.3,486.6 L224,486.6 L224,470" fill="none" stroke="#1e1e1e" stroke-width="0.9"/>
<path d="M209.5,486 Q209.8,481 216.15,480.8 Q222.5,481 222.8,486 Z" fill="#8a8a8a" stroke="#222" stroke-width="0.8"/>
<ellipse cx="216.15" cy="482.5" rx="2.6" ry="1.2" fill="#111"/>
<path d="M226.5,470 L226.5,486.6 L241.8,486.6 L241.8,470" fill="none" stroke="#1e1e1e" stroke-width="0.9"/>
<path d="M227.7,486 Q228.0,481 234.15,480.8 Q240.3,481 240.60000000000002,486 Z" fill="#8a8a8a" stroke="#222" stroke-width="0.8"/>
<ellipse cx="234.15" cy="482.5" rx="2.6" ry="1.2" fill="#111"/>
<rect x="150.6" y="471.5" width="2.8000000000000114" height="3.2" rx="0" fill="none" stroke="#1e1e1e" stroke-width="0.6"/>
<rect x="169.6" y="471.5" width="2.4000000000000057" height="3.2" rx="0" fill="none" stroke="#1e1e1e" stroke-width="0.6"/>
<rect x="187.5" y="471.5" width="2.5" height="3.2" rx="0" fill="none" stroke="#1e1e1e" stroke-width="0.6"/>
<rect x="206" y="471.5" width="2.3000000000000114" height="3.2" rx="0" fill="none" stroke="#1e1e1e" stroke-width="0.6"/>
<rect x="224" y="471.5" width="2.5" height="3.2" rx="0" fill="none" stroke="#1e1e1e" stroke-width="0.6"/>
<rect x="241.8" y="471.5" width="2.799999999999983" height="3.2" rx="0" fill="none" stroke="#1e1e1e" stroke-width="0.6"/>
<text x="158.6" y="459.7" font-size="8.7" textLength="4.3" lengthAdjust="spacingAndGlyphs" fill="#1a1a1a">L</text>
<line x1="161.3" y1="462" x2="161.3" y2="474.3" stroke="#1e1e1e" stroke-width="0.9"/>
<text x="178.5" y="459.7" font-size="8.7" textLength="4.8" lengthAdjust="spacingAndGlyphs" fill="#1a1a1a">N</text>
<line x1="181.2" y1="462" x2="181.2" y2="474.3" stroke="#1e1e1e" stroke-width="0.9"/>
<text x="193" y="459.7" font-size="8.7" textLength="10.2" lengthAdjust="spacingAndGlyphs" fill="#1a1a1a">FG</text>
<line x1="198.4" y1="462" x2="198.4" y2="474.3" stroke="#1e1e1e" stroke-width="0.9"/>
<text x="211.8" y="459.7" font-size="8.7" textLength="8.1" lengthAdjust="spacingAndGlyphs" fill="#1a1a1a">-V</text>
<line x1="216.6" y1="462" x2="216.6" y2="474.3" stroke="#1e1e1e" stroke-width="0.9"/>
<text x="226.8" y="459.7" font-size="8.7" textLength="9.2" lengthAdjust="spacingAndGlyphs" fill="#1a1a1a">+V</text>
<line x1="233.3" y1="462" x2="233.3" y2="474.3" stroke="#1e1e1e" stroke-width="0.9"/>
<path d="M257.4,498.2 L257.4,488 Q257.4,484.3 261.9,484.3 Q266.4,484.3 266.4,488 L266.4,498.2" fill="none" stroke="#1e1e1e" stroke-width="0.9"/>
<line x1="257.4" y1="489.5" x2="266.4" y2="489.5" stroke="#1e1e1e" stroke-width="0.6"/>
<rect x="268.6" y="484.5" width="13.7" height="13.7" rx="0" fill="none" stroke="#1e1e1e" stroke-width="0.9"/>
<line x1="268.6" y1="491" x2="282.3" y2="491" stroke="#1e1e1e" stroke-width="0.7"/>
<rect x="270.5" y="492" width="1.6" height="5.5" fill="#333"/>
<rect x="273.5" y="492" width="1.6" height="5.5" fill="#333"/>
<rect x="276.5" y="492" width="1.6" height="5.5" fill="#333"/>
<rect x="279.5" y="492" width="1.6" height="5.5" fill="#333"/>
<circle cx="147.1" cy="182.5" r="4.5" fill="none" stroke="#1e1e1e" stroke-width="0.9"/>
<line x1="141.29999999999998" y1="182.5" x2="152.9" y2="182.5" stroke="#111" stroke-width="1.05"/>
<line x1="147.1" y1="176.7" x2="147.1" y2="188.3" stroke="#111" stroke-width="1.05"/>
<rect x="170.3" y="176.3" width="71.8" height="2.3" rx="1" fill="none" stroke="#1e1e1e" stroke-width="0.9"/>
<rect x="208.6" y="176.3" width="20.8" height="2.3" fill="#222"/>
<circle cx="218.8" cy="177.2" r="1" fill="#000" stroke="#1e1e1e" stroke-width="0"/>
<rect x="233" y="178.5" width="9.5" height="2" fill="#555"/>
<rect x="174" y="178.4" width="10.8" height="1.9" fill="#555"/>
<rect x="174" y="178.4" width="2" height="9.2" fill="#555"/>
<circle cx="202.3" cy="183.8" r="4.8" fill="none" stroke="#1e1e1e" stroke-width="0.9"/>
<rect x="200.8" y="182" width="3" height="9.8" rx="0" fill="#fff" stroke="#1e1e1e" stroke-width="0.9"/>
<path d="M209,178.6 L209,186.7 L229.8,186.7 L229.8,178.6" fill="none" stroke="#1e1e1e" stroke-width="1.2"/>
<circle cx="214" cy="183.1" r="3.3" fill="none" stroke="#1e1e1e" stroke-width="0.9"/>
<circle cx="223.8" cy="183.1" r="3.3" fill="none" stroke="#1e1e1e" stroke-width="0.9"/>
<rect x="211" y="188.2" width="1.2" height="0.8" fill="#777"/>
<rect x="216" y="188.2" width="1.2" height="0.8" fill="#777"/>
<rect x="219" y="188.2" width="1.2" height="0.8" fill="#777"/>
<rect x="222" y="188.2" width="1.2" height="0.8" fill="#777"/>
<rect x="225" y="188.2" width="1.2" height="0.8" fill="#777"/>
<rect x="228" y="188.2" width="1.2" height="0.8" fill="#777"/>
<rect x="231.2" y="183.6" width="11.8" height="7.2" rx="2" fill="none" stroke="#1e1e1e" stroke-width="0.9"/>
<circle cx="254" cy="175.4" r="3.9" fill="none" stroke="#1e1e1e" stroke-width="0.9"/>
<line x1="252" y1="175.4" x2="256" y2="175.4" stroke="#1e1e1e" stroke-width="0.7"/>
<line x1="254" y1="173.4" x2="254" y2="177.4" stroke="#1e1e1e" stroke-width="0.7"/>
<circle cx="272.3" cy="182.3" r="5.5" fill="none" stroke="#1e1e1e" stroke-width="0.9"/>
<circle cx="279" cy="182.3" r="2.2" fill="none" stroke="#1e1e1e" stroke-width="0.7"/>
<circle cx="279" cy="182.3" r="1.1" fill="none" stroke="#1e1e1e" stroke-width="0.6"/>
<rect x="261" y="193.6" width="29.4" height="2" fill="#555"/>
<circle cx="275.6" cy="204.7" r="5.5" fill="none" stroke="#1e1e1e" stroke-width="0.9"/>
<circle cx="282" cy="204.7" r="2.2" fill="none" stroke="#1e1e1e" stroke-width="0.7"/>
<circle cx="282" cy="204.7" r="1.1" fill="none" stroke="#1e1e1e" stroke-width="0.6"/>
<polygon points="216,192 230.7,192 223.5,204.4" fill="none" stroke="#1e1e1e" stroke-width="0.9"/>
<path d="M224.5,194.5 L222.2,198.5 L225,198.5 L222.8,202" fill="none" stroke="#1e1e1e" stroke-width="0.8"/>
<path d="M139.6,197.5 L139.6,227 Q139.6,229.1 141.7,229.1 L208.3,229.1 Q210.4,229.1 210.4,227 L210.4,197.5" fill="none" stroke="#1e1e1e" stroke-width="1"/>
<path d="M139.6,197 Q139.6,194.4 142,194.4 L208,194.4 Q210.4,194.4 210.4,197" fill="none" stroke="#1e1e1e" stroke-width="0.9"/>
<rect x="139.6" y="196.6" width="70.8" height="2.2" fill="#111"/>
<path d="M148.2,204.2 L186.7,204.2 L186.7,219.4 L148.2,219.4" fill="none" stroke="#1e1e1e" stroke-width="1"/>
<rect x="156.4" y="227.6" width="24.4" height="1.8" fill="#222"/>
<rect x="189" y="226.6" width="21.4" height="2" fill="#666"/>
<rect x="210.4" y="203.7" width="4.4" height="2.5" rx="0" fill="none" stroke="#1e1e1e" stroke-width="0.8"/>
<rect x="210.4" y="217.4" width="4.4" height="3.6" rx="0" fill="none" stroke="#1e1e1e" stroke-width="0.8"/>
<line x1="214.8" y1="221" x2="214.8" y2="223.5" stroke="#1e1e1e" stroke-width="0.8"/>
<line x1="214.8" y1="223.5" x2="219" y2="223.5" stroke="#1e1e1e" stroke-width="0.8"/>
<line x1="213.2" y1="198" x2="213.2" y2="202" stroke="#1e1e1e" stroke-width="0.6"/>
<rect x="218.4" y="204.7" width="1.9" height="24.4" fill="#666"/>
<path d="M155.4,233.5 L194.5,233.5 L197.6,237.4 L194.5,241.3 L155.4,241.3 Z" fill="none" stroke="#1e1e1e" stroke-width="0.9"/>
<line x1="151.5" y1="237.4" x2="155.4" y2="237.4" stroke="#1e1e1e" stroke-width="0.8"/>
<line x1="197.6" y1="237.4" x2="201" y2="237.4" stroke="#1e1e1e" stroke-width="0.8"/>
<line x1="199.3" y1="235.7" x2="199.3" y2="239.1" stroke="#1e1e1e" stroke-width="0.7"/>
<path d="M153.8,242.2 L140.1,242.2 L140.1,267.6 L153.8,267.6" fill="none" stroke="#1e1e1e" stroke-width="0.9"/>
<rect x="142.3" y="243.6" width="9.7" height="22.4" rx="4.8" fill="none" stroke="#1e1e1e" stroke-width="1"/>
<rect x="155.4" y="243.4" width="36.3" height="21.1" rx="0" fill="none" stroke="#1e1e1e" stroke-width="1"/>
<rect x="170.4" y="243.4" width="1.6" height="21.1" fill="#888"/>
<rect x="174.5" y="243.4" width="1.6" height="21.1" fill="#888"/>
<rect x="200.3" y="243.5" width="10" height="18.8" rx="5.0" fill="none" stroke="#222" stroke-width="1.3"/>
<rect x="203.8" y="242.5" width="3" height="1.2" fill="#555"/>
<rect x="203.8" y="262.1" width="3" height="1.2" fill="#555"/>
<rect x="210.2" y="241.55" width="10" height="18.5" rx="5.0" fill="none" stroke="#222" stroke-width="1.3"/>
<rect x="213.7" y="240.55" width="3" height="1.2" fill="#555"/>
<rect x="213.7" y="259.85" width="3" height="1.2" fill="#555"/>
<rect x="162.9" y="268" width="28.8" height="1.6" fill="#333"/>
<rect x="191.85" y="268.79999999999995" width="17.5" height="10.2" rx="5.1" fill="none" stroke="#222" stroke-width="1.3"/>
<rect x="190.85" y="272.4" width="1.2" height="3" fill="#555"/>
<rect x="209.15" y="272.4" width="1.2" height="3" fill="#555"/>
<rect x="174.79999999999998" y="275.7" width="10.6" height="18.2" rx="5.3" fill="none" stroke="#222" stroke-width="1.3"/>
<rect x="178.6" y="274.7" width="3" height="1.2" fill="#555"/>
<rect x="178.6" y="293.70000000000005" width="3" height="1.2" fill="#555"/>
<rect x="215.65" y="271.7" width="10.3" height="18.2" rx="5.15" fill="none" stroke="#222" stroke-width="1.3"/>
<rect x="219.3" y="270.7" width="3" height="1.2" fill="#555"/>
<rect x="219.3" y="289.70000000000005" width="3" height="1.2" fill="#555"/>
<rect x="144.5" y="276.1" width="8.4" height="23.5" rx="0" fill="none" stroke="#1e1e1e" stroke-width="0.9"/>
<rect x="147.5" y="271.5" width="2.4" height="4.6" rx="0" fill="none" stroke="#1e1e1e" stroke-width="0.7"/>
<rect x="147.5" y="299.6" width="2.4" height="4.6" rx="0" fill="none" stroke="#1e1e1e" stroke-width="0.7"/>
<rect x="153.4" y="270.9" width="15.5" height="34.5" rx="0" fill="none" stroke="#1e1e1e" stroke-width="0.9"/>
<rect x="168" y="270.9" width="1.6" height="34.5" fill="#888"/>
<path d="M189.1,295 A7.1,7.1 0 1 1 203.1,295 L199.7,306.3 L192.5,306.3 Z" fill="none" stroke="#1e1e1e" stroke-width="1"/>
<circle cx="196.1" cy="293.5" r="4.2" fill="none" stroke="#222" stroke-width="1.3"/>
<line x1="190" y1="293.5" x2="202" y2="293.5" stroke="#1e1e1e" stroke-width="0.8"/>
<line x1="196.1" y1="288.5" x2="196.1" y2="301" stroke="#1e1e1e" stroke-width="0.8"/>
<rect x="193.1" y="282.1" width="3.2" height="3.8" rx="0" fill="none" stroke="#1e1e1e" stroke-width="0.8"/>
<line x1="196.3" y1="279.5" x2="196.3" y2="286" stroke="#1e1e1e" stroke-width="0.8"/>
<line x1="197" y1="282" x2="201.5" y2="282" stroke="#1e1e1e" stroke-width="0.8"/>
<line x1="199.5" y1="280" x2="199.5" y2="284" stroke="#1e1e1e" stroke-width="0.8"/>
<rect x="202.2" y="296.1" width="28.5" height="9.9" rx="5" fill="none" stroke="#1e1e1e" stroke-width="1"/>
<path d="M239.4,215.4 Q226,228 225.5,241 Q226,254 232.5,263.1 L232.5,274.1 L236.7,274.1 L236.7,278.4 L244.5,278.4 L244.5,275.5 Q246.5,273.6 248.4,275.5 L248.4,278.4 L255.3,278.4 L255.3,275.5 Q257.4,273.6 259.6,275.5 L259.6,278.4 L266.5,278.4 L266.5,275.5 Q268.6,273.6 270.8,275.5 L270.8,278.4 L277.8,278.4 L277.8,274.1 L282.5,274.1 L283,263.1 Q289.5,254 289.5,241 Q290,228 276.7,215.4 Z" fill="none" stroke="#1e1e1e" stroke-width="1"/>
<line x1="232.5" y1="268.6" x2="283" y2="268.6" stroke="#1e1e1e" stroke-width="0.9"/>
<path d="M241,215.4 L241,212.5 Q241,210.5 243,210.5 Q244.3,208.3 245.6,210.5 Q246.9,212.7 248.2,210.5 Q249.5,208.3 250.79999999999998,210.5 Q252.1,212.7 253.39999999999998,210.5 Q254.7,208.3 255.99999999999997,210.5 Q257.29999999999995,212.7 258.59999999999997,210.5 Q259.9,208.3 261.2,210.5 Q262.49999999999994,212.7 263.79999999999995,210.5 Q265.09999999999997,208.3 266.4,210.5 Q267.69999999999993,212.7 268.99999999999994,210.5 Q270.29999999999995,208.3 271.59999999999997,210.5 Q272.8999999999999,212.7 274.19999999999993,210.5" fill="none" stroke="#1e1e1e" stroke-width="1"/>
<path d="M270,210.5 L274,210.5 L275.5,214 Z" fill="#222" stroke="#1e1e1e" stroke-width="0.6"/>
<polygon points="236.6,233.4 242.1,233.4 242.1,238.9 244.9,238.9 239.4,243.8 234.2,238.9 236.6,238.9" fill="none" stroke="#1e1e1e" stroke-width="0.9"/>
<line x1="240.8" y1="267.3" x2="285" y2="223.7" stroke="#1e1e1e" stroke-width="0.9"/>
<line x1="276.58073394495415" y1="225.1" x2="283.58073394495415" y2="225.1" stroke="#1e1e1e" stroke-width="0.8"/>
<line x1="270.59954128440364" y1="231" x2="277.59954128440364" y2="231" stroke="#1e1e1e" stroke-width="0.8"/>
<line x1="264.9224770642202" y1="236.6" x2="271.9224770642202" y2="236.6" stroke="#1e1e1e" stroke-width="0.8"/>
<line x1="259.0426605504587" y1="242.4" x2="266.0426605504587" y2="242.4" stroke="#1e1e1e" stroke-width="0.8"/>
<line x1="253.26422018348626" y1="248.1" x2="260.26422018348626" y2="248.1" stroke="#1e1e1e" stroke-width="0.8"/>
<line x1="247.38440366972478" y1="253.9" x2="254.38440366972478" y2="253.9" stroke="#1e1e1e" stroke-width="0.8"/>
<line x1="241.40321100917433" y1="259.8" x2="248.40321100917433" y2="259.8" stroke="#1e1e1e" stroke-width="0.8"/>
<line x1="235.92889908256885" y1="265.2" x2="242.92889908256885" y2="265.2" stroke="#1e1e1e" stroke-width="0.8"/>
<rect x="291.8" y="233.4" width="1.8" height="29" fill="#555"/>
<rect x="301.2" y="251" width="1.8" height="29" fill="#777"/>
<rect x="304.8" y="250.5" width="10" height="19.5" rx="2" fill="none" stroke="#1e1e1e" stroke-width="0.9"/>
<circle cx="309.5" cy="259.3" r="2.6" fill="none" stroke="#1e1e1e" stroke-width="0.9"/>
<circle cx="293.3" cy="272.4" r="6.2" fill="none" stroke="#1e1e1e" stroke-width="0.9"/>
<path d="M287.2,270 L285,272 L287.6,275 Z" fill="#222" stroke="#1e1e1e" stroke-width="0.6"/>
<circle cx="238.1" cy="296.75" r="6.5" fill="none" stroke="#1e1e1e" stroke-width="1"/>
<path d="M232.79999999999998,292.85 A6.5,6.5 0 0 1 243.4,292.85 Z" fill="#111"/>
<path d="M235.5,290.75 Q235.7,287.35 238.1,287.15 Q240.5,287.35 240.7,290.75 Z" fill="#444"/>
<circle cx="258.7" cy="292.3" r="6.5" fill="none" stroke="#1e1e1e" stroke-width="1"/>
<path d="M253.39999999999998,288.40000000000003 A6.5,6.5 0 0 1 264.0,288.40000000000003 Z" fill="#111"/>
<path d="M256.09999999999997,286.3 Q256.3,282.90000000000003 258.7,282.7 Q261.09999999999997,282.90000000000003 261.3,286.3 Z" fill="#444"/>
<circle cx="272.6" cy="290.9" r="6.5" fill="none" stroke="#1e1e1e" stroke-width="1"/>
<path d="M267.3,287.0 A6.5,6.5 0 0 1 277.90000000000003,287.0 Z" fill="#111"/>
<path d="M270.0,284.9 Q270.20000000000005,281.5 272.6,281.29999999999995 Q275.0,281.5 275.20000000000005,284.9 Z" fill="#444"/>
<circle cx="286.6" cy="286.1" r="6.5" fill="none" stroke="#1e1e1e" stroke-width="1"/>
<path d="M281.3,282.20000000000005 A6.5,6.5 0 0 1 291.90000000000003,282.20000000000005 Z" fill="#111"/>
<path d="M284.0,280.1 Q284.20000000000005,276.70000000000005 286.6,276.5 Q289.0,276.70000000000005 289.20000000000005,280.1 Z" fill="#444"/>
<rect x="245.8" y="279.3" width="1.6" height="20" fill="#666"/>
<rect x="249.8" y="287" width="1.6" height="23.8" fill="#666"/>
<circle cx="253.8" cy="324.8" r="3.4" fill="none" stroke="#1e1e1e" stroke-width="1.4"/>
<circle cx="262" cy="319.2" r="3.5" fill="none" stroke="#1e1e1e" stroke-width="1"/>
<rect x="268.5" y="312.3" width="13.7" height="15.5" rx="0" fill="none" stroke="#1e1e1e" stroke-width="0.9"/>
<circle cx="275.4" cy="318.2" r="5.3" fill="none" stroke="#1e1e1e" stroke-width="1"/>
<circle cx="275.4" cy="318.2" r="3.6" fill="none" stroke="#1e1e1e" stroke-width="0.9"/>
<rect x="273.2" y="315.6" width="4.4" height="5" rx="0" fill="none" stroke="#1e1e1e" stroke-width="0.6"/>
<line x1="268.5" y1="325.3" x2="282.2" y2="325.3" stroke="#1e1e1e" stroke-width="0.7"/>
<rect x="284.9" y="293.1" width="7.8" height="44.4" rx="0" fill="none" stroke="#1e1e1e" stroke-width="0.9"/>
<line x1="288.8" y1="293.1" x2="288.8" y2="337.5" stroke="#1e1e1e" stroke-width="0.8"/>
<line x1="284.9" y1="297" x2="292.7" y2="297" stroke="#1e1e1e" stroke-width="0.7"/>
<line x1="284.9" y1="300.95" x2="292.7" y2="300.95" stroke="#1e1e1e" stroke-width="0.7"/>
<line x1="284.9" y1="304.9" x2="292.7" y2="304.9" stroke="#1e1e1e" stroke-width="0.7"/>
<line x1="284.9" y1="308.84999999999997" x2="292.7" y2="308.84999999999997" stroke="#1e1e1e" stroke-width="0.7"/>
<line x1="284.9" y1="312.79999999999995" x2="292.7" y2="312.79999999999995" stroke="#1e1e1e" stroke-width="0.7"/>
<line x1="284.9" y1="316.74999999999994" x2="292.7" y2="316.74999999999994" stroke="#1e1e1e" stroke-width="0.7"/>
<line x1="284.9" y1="320.69999999999993" x2="292.7" y2="320.69999999999993" stroke="#1e1e1e" stroke-width="0.7"/>
<line x1="284.9" y1="324.6499999999999" x2="292.7" y2="324.6499999999999" stroke="#1e1e1e" stroke-width="0.7"/>
<line x1="284.9" y1="328.5999999999999" x2="292.7" y2="328.5999999999999" stroke="#1e1e1e" stroke-width="0.7"/>
<line x1="284.9" y1="332.5499999999999" x2="292.7" y2="332.5499999999999" stroke="#1e1e1e" stroke-width="0.7"/>
<line x1="284.9" y1="336.4999999999999" x2="292.7" y2="336.4999999999999" stroke="#1e1e1e" stroke-width="0.7"/>
<path d="M284.9,337.5 L283.5,340 L282.5,341.2 M292.7,337.5 L294,338.5" fill="none" stroke="#1e1e1e" stroke-width="0.8"/>
<polygon points="282.2,218.3 296.8,204.3 305.2,212.8 290.7,227.3" fill="none" stroke="#1e1e1e" stroke-width="1"/>
<line x1="289.5" y1="211.3" x2="297.9" y2="219.7" stroke="#1e1e1e" stroke-width="0.8"/>
<line x1="293.3" y1="215.1" x2="299.5" y2="209" stroke="#1e1e1e" stroke-width="0.8"/>
<line x1="291.2" y1="228.6" x2="306.3" y2="213.9" stroke="#1e1e1e" stroke-width="2.2"/>
<circle cx="302.8" cy="220.6" r="1.3" fill="none" stroke="#1e1e1e" stroke-width="0.8"/>
<path d="M151.1,341.2 L151.1,307.2 L244.3,307.2 L244.3,341.2" fill="none" stroke="#1e1e1e" stroke-width="1"/>
<path d="M153.3,341.2 L153.3,314.5 Q153.3,312.7 155.10000000000002,312.7 L167.9,312.7 Q169.70000000000002,312.7 169.70000000000002,314.5 L169.70000000000002,341.2" fill="none" stroke="#1e1e1e" stroke-width="0.9"/>
<line x1="153.3" y1="320.4" x2="169.70000000000002" y2="320.4" stroke="#1e1e1e" stroke-width="0.9"/>
<line x1="153.3" y1="334.4" x2="169.70000000000002" y2="334.4" stroke="#1e1e1e" stroke-width="0.9"/>
<circle cx="161.60000000000002" cy="327.1" r="5.2" fill="none" stroke="#151515" stroke-width="1.9"/>
<circle cx="161.60000000000002" cy="327.1" r="3.3" fill="#222" stroke="#1e1e1e" stroke-width="0"/>
<circle cx="161.60000000000002" cy="327.1" r="2.3" fill="none" stroke="#999" stroke-width="0.5"/>
<circle cx="161.60000000000002" cy="327.1" r="1.2" fill="#000" stroke="#1e1e1e" stroke-width="0"/>
<line x1="151.8" y1="337.5" x2="151.8" y2="341" stroke="#1e1e1e" stroke-width="0.6"/>
<path d="M171.60000000000002,341.2 L171.60000000000002,314.5 Q171.60000000000002,312.7 173.40000000000003,312.7 L186.20000000000002,312.7 Q188.00000000000003,312.7 188.00000000000003,314.5 L188.00000000000003,341.2" fill="none" stroke="#1e1e1e" stroke-width="0.9"/>
<line x1="171.60000000000002" y1="320.4" x2="188.00000000000003" y2="320.4" stroke="#1e1e1e" stroke-width="0.9"/>
<line x1="171.60000000000002" y1="334.4" x2="188.00000000000003" y2="334.4" stroke="#1e1e1e" stroke-width="0.9"/>
<circle cx="179.90000000000003" cy="327.1" r="5.2" fill="none" stroke="#151515" stroke-width="1.9"/>
<circle cx="179.90000000000003" cy="327.1" r="3.3" fill="#222" stroke="#1e1e1e" stroke-width="0"/>
<circle cx="179.90000000000003" cy="327.1" r="2.3" fill="none" stroke="#999" stroke-width="0.5"/>
<circle cx="179.90000000000003" cy="327.1" r="1.2" fill="#000" stroke="#1e1e1e" stroke-width="0"/>
<line x1="170.10000000000002" y1="337.5" x2="170.10000000000002" y2="341" stroke="#1e1e1e" stroke-width="0.6"/>
<path d="M189.9,341.2 L189.9,314.5 Q189.9,312.7 191.70000000000002,312.7 L204.5,312.7 Q206.3,312.7 206.3,314.5 L206.3,341.2" fill="none" stroke="#1e1e1e" stroke-width="0.9"/>
<line x1="189.9" y1="320.4" x2="206.3" y2="320.4" stroke="#1e1e1e" stroke-width="0.9"/>
<line x1="189.9" y1="334.4" x2="206.3" y2="334.4" stroke="#1e1e1e" stroke-width="0.9"/>
<circle cx="198.20000000000002" cy="327.1" r="5.2" fill="none" stroke="#151515" stroke-width="1.9"/>
<circle cx="198.20000000000002" cy="327.1" r="3.3" fill="#222" stroke="#1e1e1e" stroke-width="0"/>
<circle cx="198.20000000000002" cy="327.1" r="2.3" fill="none" stroke="#999" stroke-width="0.5"/>
<circle cx="198.20000000000002" cy="327.1" r="1.2" fill="#000" stroke="#1e1e1e" stroke-width="0"/>
<line x1="188.4" y1="337.5" x2="188.4" y2="341" stroke="#1e1e1e" stroke-width="0.6"/>
<path d="M208.20000000000002,341.2 L208.20000000000002,314.5 Q208.20000000000002,312.7 210.00000000000003,312.7 L222.8,312.7 Q224.60000000000002,312.7 224.60000000000002,314.5 L224.60000000000002,341.2" fill="none" stroke="#1e1e1e" stroke-width="0.9"/>
<line x1="208.20000000000002" y1="320.4" x2="224.60000000000002" y2="320.4" stroke="#1e1e1e" stroke-width="0.9"/>
<line x1="208.20000000000002" y1="334.4" x2="224.60000000000002" y2="334.4" stroke="#1e1e1e" stroke-width="0.9"/>
<circle cx="216.50000000000003" cy="327.1" r="5.2" fill="none" stroke="#151515" stroke-width="1.9"/>
<circle cx="216.50000000000003" cy="327.1" r="3.3" fill="#222" stroke="#1e1e1e" stroke-width="0"/>
<circle cx="216.50000000000003" cy="327.1" r="2.3" fill="none" stroke="#999" stroke-width="0.5"/>
<circle cx="216.50000000000003" cy="327.1" r="1.2" fill="#000" stroke="#1e1e1e" stroke-width="0"/>
<line x1="206.70000000000002" y1="337.5" x2="206.70000000000002" y2="341" stroke="#1e1e1e" stroke-width="0.6"/>
<path d="M226.5,341.2 L226.5,314.5 Q226.5,312.7 228.3,312.7 L241.1,312.7 Q242.9,312.7 242.9,314.5 L242.9,341.2" fill="none" stroke="#1e1e1e" stroke-width="0.9"/>
<line x1="226.5" y1="320.4" x2="242.9" y2="320.4" stroke="#1e1e1e" stroke-width="0.9"/>
<line x1="226.5" y1="334.4" x2="242.9" y2="334.4" stroke="#1e1e1e" stroke-width="0.9"/>
<circle cx="234.8" cy="327.1" r="5.2" fill="none" stroke="#151515" stroke-width="1.9"/>
<circle cx="234.8" cy="327.1" r="3.3" fill="#222" stroke="#1e1e1e" stroke-width="0"/>
<circle cx="234.8" cy="327.1" r="2.3" fill="none" stroke="#999" stroke-width="0.5"/>
<circle cx="234.8" cy="327.1" r="1.2" fill="#000" stroke="#1e1e1e" stroke-width="0"/>
<line x1="225.0" y1="337.5" x2="225.0" y2="341" stroke="#1e1e1e" stroke-width="0.6"/>
<path d="M129.7,334 L136.5,334 L139.5,336.5 L144,336.5 L144,341.2" fill="none" stroke="#1e1e1e" stroke-width="0.9"/>
<path d="M136.5,334.3 L139.5,336.5 L144,336.5 L141,334.3 Z" fill="#999"/>
<line x1="129.7" y1="338.8" x2="140" y2="338.8" stroke="#999" stroke-width="0.9"/>
<line x1="140" y1="336.5" x2="140" y2="341.2" stroke="#1e1e1e" stroke-width="0.8"/>
<line x1="142" y1="338.5" x2="144.5" y2="341" stroke="#1e1e1e" stroke-width="0.7"/>
<rect x="232.5" y="203" width="11.5" height="5.4" rx="1.5" fill="none" stroke="#1e1e1e" stroke-width="0.9"/>
<rect x="229" y="203.3" width="3.8" height="4.8" fill="#333"/>
<rect x="227.6" y="204.3" width="1.6" height="2.8" rx="0" fill="none" stroke="#1e1e1e" stroke-width="0.6"/>
<rect x="244" y="204.3" width="3" height="2.8" rx="0" fill="none" stroke="#1e1e1e" stroke-width="0.7"/>
<line x1="497.5" y1="340.7" x2="490.8" y2="333.3" stroke="#1e1e1e" stroke-width="1"/>
<polygon points="490.8,333.3 495.54,336.43 493.46,338.31" fill="#1e1e1e"/>
<rect x="311.1" y="326" width="3.1" height="15.2" rx="0" fill="none" stroke="#1e1e1e" stroke-width="0.8"/>
</svg>
</body></html>
